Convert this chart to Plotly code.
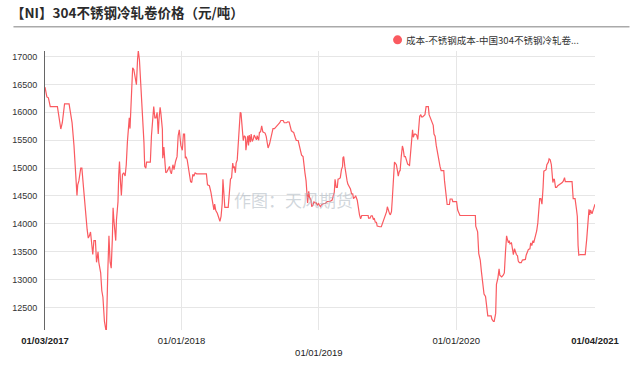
import pandas as pd
import plotly.graph_objects as go

# ---- data ----
start_date = "2017-01-03"
day_offsets = [
    0, 5, 9, 14, 33, 38, 42, 46, 52, 64, 68, 72, 77, 82, 85, 87, 90, 95, 98, 103,
    106, 109, 112, 115, 118, 121, 125, 127, 130, 134, 137, 139, 141, 143, 145, 148,
    151, 154, 158, 160, 163, 167, 170, 173, 176, 179, 181, 183, 186, 188, 190, 194,
    196, 198, 201, 203, 206, 209, 213, 216, 219, 222, 224, 226, 229, 233, 236, 240,
    243, 246, 248, 251, 253, 255, 257, 260, 263, 265, 268, 270, 280, 283, 286, 289,
    292, 295, 298, 301, 303, 306, 308, 312, 313, 316, 319, 321, 324, 327, 331, 333,
    336, 340, 343, 347, 351, 354, 357,
    361, 365, 368, 371, 373, 375, 378, 382, 387, 390, 393, 396, 399, 403, 429, 432,
    437, 441, 445, 449, 451, 454, 458, 461, 465, 468, 471, 473, 476, 478, 487, 490,
    493, 496, 499, 501, 503, 506, 508, 511, 514, 516, 519, 521, 523, 526, 527, 530,
    533, 534, 537, 539, 541, 543, 546, 548, 551, 554, 556, 559, 562, 564, 568, 570,
    573, 576, 579, 582, 585, 588, 591, 593, 597, 600, 604, 606, 610, 613, 617, 620,
    624, 627, 633, 636, 642, 645, 649, 652, 655, 658, 661, 665, 668, 673, 675, 679,
    682, 686, 688, 691, 694, 696, 698, 701, 703, 707, 709, 712, 715, 718, 721, 724,
    727,
    732, 736, 741, 745, 750, 754, 758, 763, 766, 769, 771, 774, 777, 779, 783, 785,
    788, 791, 792, 794, 797, 799, 803, 805, 809, 812, 815, 818, 820, 824, 826, 830,
    833, 836, 839, 842, 846, 854, 859, 860, 864, 867, 870, 873, 875, 878, 881, 883,
    887, 890, 894, 896, 899, 902, 905, 908, 910, 913, 916, 918, 921, 923, 926, 929,
    931, 934, 937, 939, 942, 944, 947, 950, 952, 955, 958, 961, 964, 969, 971, 974,
    977, 979, 982, 985, 988, 991, 993, 996, 999, 1001, 1004, 1007, 1010, 1013, 1016,
    1019, 1021, 1024, 1027, 1029, 1032, 1034, 1037, 1040, 1042, 1045, 1048, 1050,
    1053, 1055, 1060, 1062, 1065, 1068, 1069, 1075, 1077, 1082, 1084,
    1094, 1097, 1103, 1144, 1145, 1150, 1153, 1157, 1160, 1164, 1167, 1171, 1174,
    1177, 1186, 1188, 1192, 1194, 1198, 1200, 1204, 1207, 1209, 1214, 1218, 1221,
    1224, 1227, 1229, 1232, 1234, 1236, 1240, 1242, 1245, 1248, 1250, 1253, 1256,
    1258, 1261, 1266, 1269, 1273, 1277, 1279, 1282, 1285, 1289, 1291, 1294, 1297,
    1299, 1302, 1304, 1307, 1310, 1312, 1315, 1318, 1321, 1324, 1326, 1329, 1332,
    1334, 1338, 1340, 1343, 1346, 1348, 1350, 1352, 1354, 1357, 1360, 1363, 1367,
    1371, 1375, 1378, 1381, 1383, 1401, 1404, 1409, 1413, 1415, 1417, 1419, 1423,
    1436, 1440, 1442, 1444, 1446, 1448, 1450, 1454, 1457, 1460, 1462,
]
price = [
    16450, 16276, 16260, 16100, 16100, 15870, 15700, 15813, 16150, 16150, 15930, 15810,
    15407, 14886, 14510, 14700, 14770, 15000, 15000, 14600, 14365, 14017, 13900, 13745,
    13785, 13855, 13497, 13450, 13700, 13700, 13310, 13380, 13497, 13310, 13206, 13120,
    12800, 12685, 12250, 12190, 12050, 13150, 13785, 13320, 13206, 13728, 14290, 14075,
    13728, 13700, 14075, 14394, 14886, 15118, 14712, 14510, 14886, 14915, 14857, 15060,
    15465, 15900, 15900, 15708, 16334, 16797, 16768, 16566, 16496, 16942, 17100, 16942,
    16710, 16624, 16160, 15813, 15465, 15030, 15000, 15106, 15106, 15580, 15813, 16102,
    15900, 15900, 16000, 15610, 15870, 16090, 15986, 15697, 15176, 15378, 15089, 14915,
    14932, 14984, 15030, 14944, 14897, 15060, 14973, 15118, 15205, 15580, 15685,
    15407, 15320, 15610, 15610, 15176, 15205, 15147, 14944, 14758, 14741, 14886, 14857,
    14915, 14897, 14897, 14700, 14683, 14568, 14423, 14249, 14353, 14237, 14191, 14104,
    14046, 14133, 14365, 14800, 14480, 14295, 14295, 14654, 14800, 14828, 15089, 15000,
    15030, 14915, 15089, 15147, 15465, 15813, 16000, 15986, 15813, 15697, 15494, 15580,
    15552, 15320, 15523, 15580, 15407, 15592, 15465, 15610, 15477, 15523, 15592, 15552,
    15506, 15580, 15500, 15639, 15650, 15755, 15650, 15639, 15627, 15570, 15465, 15360,
    15436, 15552, 15685, 15708, 15708, 15726, 15755, 15784, 15813, 15853, 15853, 15813,
    15813, 15830, 15824, 15755, 15668, 15650, 15639, 15552, 15494, 15494, 15436, 15349,
    15233, 15205, 15060, 14915, 14770, 14480, 14376, 14585, 14480, 14423, 14307, 14336,
    14394, 14376, 14376, 14336, 14365,
    14307, 14347, 14365, 14365, 14400, 14400, 14405, 14423, 14480, 14568, 14800, 14654,
    14654, 14800, 14811, 14828, 14973, 15030, 15187, 15205, 15030, 14915, 14770, 14712,
    14654, 14625, 14538, 14538, 14452, 14498, 14498, 14423, 14278, 14162, 14092, 14150,
    14150, 14150, 14150, 14104, 14104, 14145, 14145, 14075, 14104, 14029, 14029, 13960,
    13948, 13948, 13948, 13988, 14064, 14133, 14156, 14220, 14307, 14232, 14180, 14162,
    14220, 14423, 14770, 15106, 15089, 15060, 14944, 14857, 14944, 14955, 15205, 15396,
    15349, 15205, 15205, 15147, 15071, 15048, 15233, 15465, 15685, 15552, 15610, 15610,
    15592, 15511, 15708, 15928, 15958, 15917, 15917, 15940, 15958, 16102, 16102, 16102,
    15958, 15900, 15859, 15824, 15766, 15610, 15570, 15407, 15320, 15205, 15089, 15030,
    14955, 14955, 14955, 14770, 14596, 14452, 14347, 14347, 14446, 14446, 14400,
    14400, 14249, 14150, 14150, 13960, 13855, 13467, 13351, 13148, 12917, 12743, 12697,
    12453, 12349, 12349, 12291, 12250, 12250, 12395, 12917, 13033, 13195, 13079, 13050,
    13079, 13120, 13496, 13785, 13727, 13658, 13700, 13641, 13658, 13554, 13450, 13554,
    13496, 13450, 13427, 13334, 13305, 13305, 13351, 13363, 13363, 13438, 13496, 13542,
    13554, 13658, 13612, 13700, 13658, 13727, 13756, 13872, 14017, 14249, 14452, 14452,
    14353, 14654, 14944, 14955, 14973, 15060, 15106, 15164, 15147, 15060, 14915, 14741,
    14800, 14800, 14654, 14654, 14683, 14700, 14712, 14741, 14770, 14828, 14758, 14758,
    14452, 14452, 14249, 14133, 13612, 13438, 13450, 13450, 13727, 13960, 13988, 14260,
    14162, 14249, 14180, 14237, 14307, 14353,
]

series_name = "成本-不锈钢成本-中国304不锈钢冷轧卷..."
chart_title = "【NI】304不锈钢冷轧卷价格（元/吨）"
watermark = "作图：天风期货"

x_tick_dates = ["2017-01-03", "2018-01-01", "2019-01-01", "2020-01-01", "2021-01-04"]
x_tick_labels = ["<b>01/03/2017</b>", "01/01/2018", "<br>01/01/2019", "01/01/2020", "<b>01/04/2021</b>"]
x_grid_dates = ["2018-01-01", "2019-01-01", "2020-01-01"]
y_tick_values = [12500, 13000, 13500, 14000, 14500, 15000, 15500, 16000, 16500, 17000]
y_range = [12097, 17099]

dates = pd.Timestamp(start_date) + pd.to_timedelta(day_offsets, unit="D")

# ---- layout geometry ----
W, H = 631, 370
ML, MR, MT, MB = 38, 35, 51, 31
PW, PH = W - ML - MR, H - MT - MB

def px_x(px):
    return (px - ML) / PW

def px_y(py):
    return (H - MB - py) / PH

LINE_COLOR = "#fa5a60"
GRID = "#e6e6e6"

fig = go.Figure()
fig.add_trace(go.Scatter(
    x=dates, y=price, mode="lines", name=series_name,
    line=dict(color=LINE_COLOR, width=1.2), showlegend=False,
    hoverinfo="x+y",
))

fig.update_layout(
    width=W, height=H,
    margin=dict(l=ML, r=MR, t=MT, b=MB, pad=0),
    paper_bgcolor="white", plot_bgcolor="white",
    showlegend=False,
    title=dict(
        text=chart_title, xref="container", yref="container",
        x=11 / W, xanchor="left", y=1 - 13.5 / H, yanchor="middle",
        font=dict(family="Noto Sans CJK SC", size=13.5, color="#2b2b2b", weight="bold"),
    ),
)

fig.update_xaxes(
    type="date", range=[x_tick_dates[0], x_tick_dates[-1]],
    tickmode="array", tickvals=x_tick_dates, ticktext=x_tick_labels,
    showgrid=False,
    minor=dict(tickmode="array", tickvals=x_grid_dates, showgrid=True,
               gridcolor=GRID, gridwidth=1, ticks=""),
    showline=False, zeroline=False, ticks="", ticklabelstandoff=3,
    tickfont=dict(family="Liberation Sans", size=9.5, color="#222222"),
    tickangle=0,
)
fig.update_yaxes(
    range=y_range, tickmode="array", tickvals=y_tick_values, tickformat="d",
    showgrid=True, gridcolor=GRID, gridwidth=1,
    showline=True, linecolor="#666666", linewidth=1,
    zeroline=False, ticks="", ticklabelstandoff=5,
    tickfont=dict(family="Liberation Sans", size=9, color="#333333"),
)

# separator line under the title
fig.add_shape(type="line", xref="paper", yref="paper",
              x0=px_x(6), x1=px_x(631), y0=px_y(26), y1=px_y(26),
              line=dict(color="#aaaaaa", width=1.5))

# legend marker + text
fig.add_shape(type="circle", xref="paper", yref="paper",
              xsizemode="pixel", ysizemode="pixel",
              xanchor=px_x(395.7), yanchor=px_y(39.5),
              x0=-4.5, x1=4.5, y0=-4.5, y1=4.5,
              fillcolor=LINE_COLOR, line=dict(width=0))
fig.add_annotation(text=series_name, xref="paper", yref="paper",
                   x=px_x(402), y=px_y(39.5), xanchor="left", yanchor="middle",
                   showarrow=False,
                   font=dict(family="Noto Sans CJK SC", size=9.5, color="#333333"))

# watermark
fig.add_annotation(text=watermark, xref="paper", yref="paper",
                   x=px_x(290), y=px_y(204), xanchor="center", yanchor="middle",
                   showarrow=False,
                   font=dict(family="Noto Sans CJK SC", size=17, color="rgba(170,180,190,0.55)"))

fig.write_html("out.html")
